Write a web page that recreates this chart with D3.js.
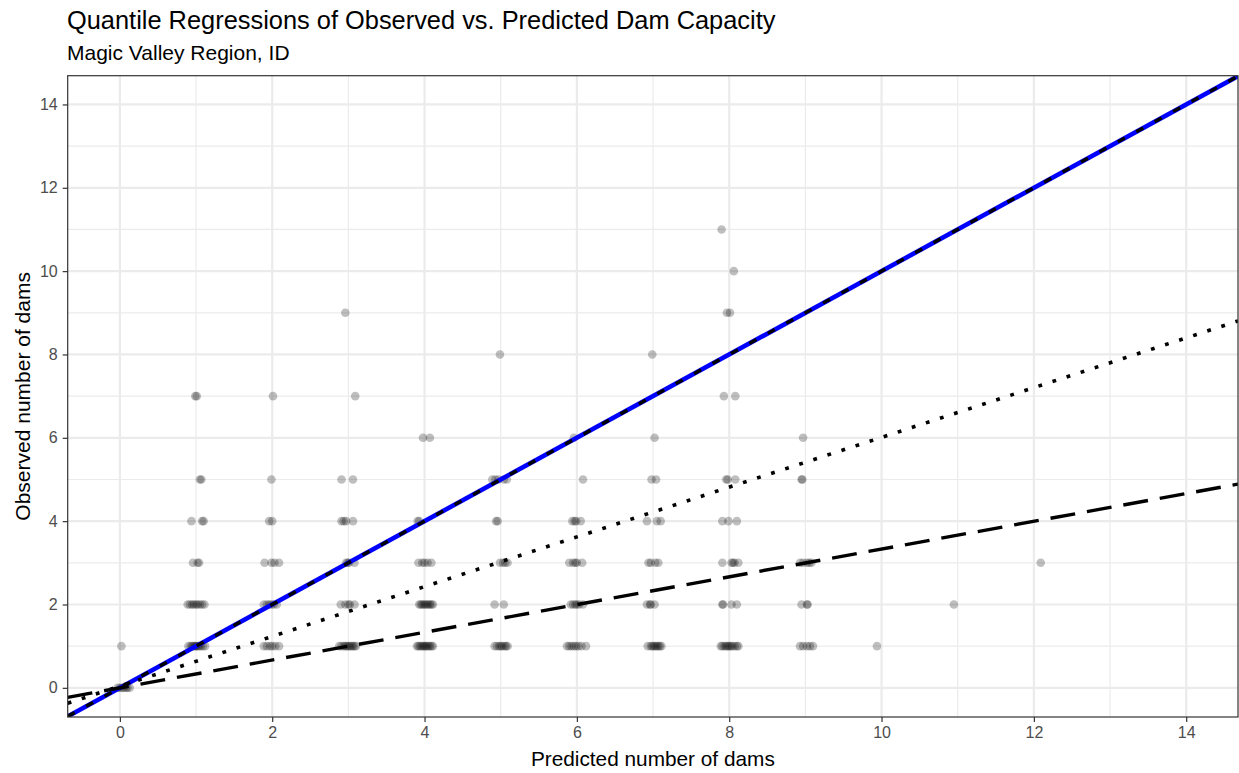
<!DOCTYPE html>
<html>
<head>
<meta charset="utf-8">
<script src="https://cdn.jsdelivr.net/npm/d3@7"></script>
<style>
  body { margin: 0; background: #fff; }
  text { font-family: "Liberation Sans", Arial, sans-serif; }
</style>
</head>
<body>
<script>
const largura = 1239;
const altura = 773;

// pontos: [observado, [previstos com jitter]]
const col0 = [[0, [-0.03, 0.0, 0.03, 0.05, 0.08, 0.1, 0.13]], [1, [0.02]]];
const col1 = [
  [7, [0.99, 1.01]], [5, [1.05, 1.07]], [4, [0.94, 1.08, 1.1]], [3, [0.96, 1.02, 1.04]],
  [2, [0.89, 0.92, 0.95, 0.97, 1.0, 1.02, 1.05, 1.08, 1.11]],
  [1, [0.9, 0.93, 0.95, 0.97, 0.99, 1.0, 1.02, 1.04, 1.06, 1.09, 1.12]]
];
const col2 = [
  [7, [2.01]], [5, [1.99]], [4, [1.96, 2.0]], [3, [1.9, 1.99, 2.03, 2.09]],
  [2, [1.89, 1.93, 1.96, 1.99, 2.02, 2.06]],
  [1, [1.89, 1.93, 1.97, 2.0, 2.04, 2.09]]
];
const col3 = [
  [9, [2.96]], [7, [3.09]], [5, [2.91, 3.06]], [4, [2.91, 2.94, 2.97, 3.06]],
  [3, [2.97, 2.99, 3.01, 3.08]], [2, [2.9, 2.96, 3.0, 3.02, 3.08]],
  [1, [2.88, 2.91, 2.94, 2.96, 2.98, 3.0, 3.02, 3.04, 3.06, 3.08, 3.1]]
];
const col4 = [
  [6, [3.98, 4.07]], [4, [3.91, 3.93]], [3, [3.92, 3.97, 4.0, 4.04, 4.09]],
  [2, [3.93, 3.95, 3.97, 3.99, 4.01, 4.03, 4.05, 4.07, 4.09, 4.11]],
  [1, [3.9, 3.92, 3.94, 3.96, 3.98, 4.0, 4.01, 4.03, 4.05, 4.07, 4.09, 4.11]]
];
const col5 = [
  [8, [4.99]], [5, [4.89, 4.93, 4.97, 5.04, 5.08]], [4, [4.94, 4.96]],
  [3, [4.99, 5.03, 5.06, 5.09]], [2, [4.92, 5.04]],
  [1, [4.92, 4.95, 4.98, 5.0, 5.02, 5.05, 5.07, 5.09]]
];
const col6 = [
  [6, [5.96]], [5, [6.08]], [4, [5.94, 5.97, 5.99, 6.05]],
  [3, [5.9, 5.95, 5.98, 6.0, 6.07]], [2, [5.92, 5.95, 5.98, 6.0, 6.03, 6.08]],
  [1, [5.87, 5.9, 5.93, 5.96, 5.99, 6.02, 6.06, 6.12]]
];
const col7 = [
  [8, [6.99]], [6, [7.02]], [5, [6.98, 7.04]], [4, [6.92, 7.05, 7.1]],
  [3, [6.94, 6.97, 7.03, 7.07]], [2, [6.92, 6.96, 6.97, 7.02]],
  [1, [6.93, 6.97, 6.99, 7.01, 7.03, 7.05, 7.07, 7.09, 7.11]]
];
const col8 = [
  [11, [7.9]], [10, [8.06]], [9, [7.97, 8.01]], [7, [7.93, 8.08]],
  [5, [7.96, 7.98, 8.08]], [4, [7.91, 7.99, 8.1]], [3, [7.91, 8.03, 8.05, 8.07, 8.12]],
  [2, [7.91, 7.92, 8.03, 8.1]],
  [1, [7.89, 7.91, 7.94, 7.96, 7.98, 8.0, 8.02, 8.04, 8.07, 8.1, 8.12]]
];
const col9 = [
  [6, [8.97]], [5, [8.95, 8.96]], [3, [8.93, 8.97, 9.02, 9.05, 9.08]],
  [2, [8.95, 9.02, 9.03]], [1, [8.93, 8.97, 9.02, 9.06, 9.1]]
];
const col10 = [[1, [9.94]]];
const col11 = [[2, [10.95]]];
const col12 = [[3, [12.09]]];

// retas: y = intercepto + inclinacao * x
const retaInclinacao = [1, 0.597, 0.333];
const retaIntercepto = [0, 0.04, 0.0];
const retaTipo = ["tracejada", "pontilhada", "longa"];

const ticksEixo = [0, 2, 4, 6, 8, 10, 12, 14];
const ticksMenores = [1, 3, 5, 7, 9, 11, 13];

const titulo = "Quantile Regressions of Observed vs. Predicted Dam Capacity";
const subtitulo = "Magic Valley Region, ID";
const rotuloX = "Predicted number of dams";
const rotuloY = "Observed number of dams";

const pontos = [col0, col1, col2, col3, col4, col5, col6, col7, col8, col9, col10, col11, col12]
  .flatMap(col => col.flatMap(([obs, xs]) => xs.map(p => ({ x: p, y: obs }))));

const painel = { esq: 67.7, dir: 1238, topo: 75.7, base: 717 };

const x = d3.scaleLinear().domain([-0.685, 14.68]).range([painel.esq, painel.dir]);
const y = d3.scaleLinear().domain([-0.7, 14.69]).range([painel.base, painel.topo]);

const svg = d3.select("body").append("svg")
  .attr("width", largura)
  .attr("height", altura);

svg.append("text") // Titulo
  .attr("x", 67).attr("y", 28.5)
  .attr("font-size", 25.4)
  .attr("fill", "#000")
  .text(titulo);

svg.append("text") // Subtitulo
  .attr("x", 67).attr("y", 60)
  .attr("font-size", 21)
  .attr("fill", "#000")
  .text(subtitulo);

svg.append("defs").append("clipPath").attr("id", "recorte")
  .append("rect")
  .attr("x", painel.esq).attr("y", painel.topo)
  .attr("width", painel.dir - painel.esq).attr("height", painel.base - painel.topo);

const grade = svg.append("g");

grade.selectAll(".menorX").data(ticksMenores).join("line")
  .attr("x1", d => x(d)).attr("x2", d => x(d))
  .attr("y1", painel.topo).attr("y2", painel.base)
  .attr("stroke", "#ebebeb").attr("stroke-width", 1.2);

grade.selectAll(".menorY").data(ticksMenores).join("line")
  .attr("y1", d => y(d)).attr("y2", d => y(d))
  .attr("x1", painel.esq).attr("x2", painel.dir)
  .attr("stroke", "#ebebeb").attr("stroke-width", 1.2);

grade.selectAll(".maiorX").data(ticksEixo).join("line")
  .attr("x1", d => x(d)).attr("x2", d => x(d))
  .attr("y1", painel.topo).attr("y2", painel.base)
  .attr("stroke", "#ebebeb").attr("stroke-width", 2.2);

grade.selectAll(".maiorY").data(ticksEixo).join("line")
  .attr("y1", d => y(d)).attr("y2", d => y(d))
  .attr("x1", painel.esq).attr("x2", painel.dir)
  .attr("stroke", "#ebebeb").attr("stroke-width", 2.2);

const conteudo = svg.append("g").attr("clip-path", "url(#recorte)");

conteudo.selectAll(".ponto").data(pontos).join("circle")
  .attr("cx", d => x(d.x))
  .attr("cy", d => y(d.y))
  .attr("r", 4.3)
  .attr("fill", "#000")
  .attr("fill-opacity", 0.25);

const [x0, x1] = x.domain();
const retas = retaInclinacao.map((b, i) => ({
  tipo: retaTipo[i],
  pts: [[x0, retaIntercepto[i] + b * x0], [x1, retaIntercepto[i] + b * x1]]
}));

const linha = d3.line().x(d => x(d[0])).y(d => y(d[1]));

conteudo.append("path") // reta 1:1 azul
  .attr("d", linha(retas[0].pts))
  .attr("stroke", "#0000ff")
  .attr("stroke-width", 4.6)
  .attr("fill", "none");

const estilos = {
  tracejada: { dash: "8,13", w: 3.4 },
  pontilhada: { dash: "3.8,11", w: 3.6 },
  longa: { dash: "25,12", w: 3.4 }
};

conteudo.selectAll(".reta").data(retas).join("path")
  .attr("d", d => linha(d.pts))
  .attr("stroke", "#000")
  .attr("stroke-width", d => estilos[d.tipo].w)
  .attr("stroke-dasharray", d => estilos[d.tipo].dash)
  .attr("fill", "none");

svg.append("rect") // borda do painel
  .attr("x", painel.esq).attr("y", painel.topo)
  .attr("width", painel.dir - painel.esq).attr("height", painel.base - painel.topo)
  .attr("fill", "none")
  .attr("stroke", "#333333")
  .attr("stroke-width", 1.2);

const eixoX = svg.append("g")
  .attr("transform", `translate(0, ${painel.base})`)
  .call(d3.axisBottom(x).tickValues(ticksEixo).tickSize(5).tickPadding(5));

const eixoY = svg.append("g")
  .attr("transform", `translate(${painel.esq}, 0)`)
  .call(d3.axisLeft(y).tickValues(ticksEixo).tickSize(5).tickPadding(5));

[eixoX, eixoY].forEach(e => {
  e.select(".domain").remove();
  e.selectAll(".tick line").attr("stroke", "#333333").attr("stroke-width", 1.2);
  e.selectAll(".tick text")
    .attr("fill", "#4d4d4d")
    .attr("font-size", 16)
    .attr("font-family", "Liberation Sans, Arial, sans-serif");
});

svg.append("text") // rotulo X
  .attr("x", (painel.esq + painel.dir) / 2)
  .attr("y", 766)
  .attr("text-anchor", "middle")
  .attr("font-size", 20.8)
  .text(rotuloX);

svg.append("text") // rotulo Y
  .attr("transform", `translate(30, ${(painel.topo + painel.base) / 2}) rotate(-90)`)
  .attr("text-anchor", "middle")
  .attr("font-size", 21)
  .text(rotuloY);
</script>
</body>
</html>
